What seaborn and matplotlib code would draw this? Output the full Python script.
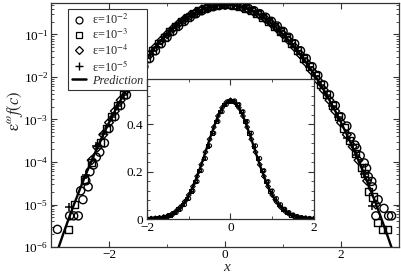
import numpy as np
import pandas as pd
import matplotlib
matplotlib.use("Agg")
import matplotlib.pyplot as plt
import seaborn as sns
from matplotlib.lines import Line2D
from matplotlib.ticker import LogLocator, MultipleLocator, LogFormatterMathtext, NullFormatter

# prediction curve
pred_x = [-3.0, -2.9, -2.8, -2.7, -2.6, -2.5, -2.4, -2.3, -2.2, -2.1, -2.0, -1.9, -1.8, -1.7, -1.6,
          -1.5, -1.4, -1.3, -1.2, -1.1, -1.0, -0.9, -0.8, -0.7, -0.6, -0.5, -0.4, -0.3, -0.2, -0.1,
          0.0, 0.1, 0.2, 0.3, 0.4, 0.5, 0.6, 0.7, 0.8, 0.9, 1.0, 1.1, 1.2, 1.3, 1.4, 1.5, 1.6, 1.7,
          1.8, 1.9, 2.0, 2.1, 2.2, 2.3, 2.4, 2.5, 2.6, 2.7, 2.8, 2.9, 3.0]
pred_y = [2.92e-7, 7.46e-7, 1.85e-6, 4.46e-6, 1.04e-5, 2.34e-5, 5.12e-5, 1.08e-4, 2.22e-4, 4.41e-4,
          8.47e-4, 1.58e-3, 2.85e-3, 4.98e-3, 8.43e-3, 1.38e-2, 2.19e-2, 3.37e-2, 5.03e-2, 7.26e-2,
          0.101, 0.137, 0.180, 0.229, 0.282, 0.336, 0.387, 0.434, 0.469, 0.492,
          0.500, 0.492, 0.469, 0.434, 0.387, 0.336, 0.282, 0.229, 0.180, 0.137, 0.101,
          7.26e-2, 5.03e-2, 3.37e-2, 2.19e-2, 1.38e-2, 8.43e-3, 4.98e-3, 2.85e-3, 1.58e-3, 8.47e-4,
          4.41e-4, 2.22e-4, 1.08e-4, 5.12e-5, 2.34e-5, 1.04e-5, 4.46e-6, 1.85e-6, 7.46e-7, 2.92e-7]

# eps = 1e-2 (circles)
c_x = [-2.89, -2.68, -2.61, -2.53, -2.49, -2.45, -2.40, -2.36, -2.33, -2.27, -2.22, -2.16, -2.08,
       -2.0, -1.9, -1.8, -1.7, -1.6, -1.5, -1.4, -1.3, -1.2, -1.1, -1.0, -0.9, -0.8, -0.7, -0.6,
       -0.5, -0.4, -0.3, -0.2, -0.1, 0.0, 0.1, 0.2, 0.3, 0.4, 0.5, 0.6, 0.7, 0.8, 0.9, 1.0, 1.1,
       1.2, 1.3, 1.4, 1.5, 1.6, 1.7, 1.8, 1.9, 2.0,
       2.1, 2.17, 2.24, 2.27, 2.33, 2.40, 2.44, 2.47, 2.53, 2.54, 2.60, 2.64, 2.74, 2.82, 2.87]
c_y = [2.6e-6, 5.4e-6, 5.4e-6, 5.4e-6, 2.1e-5, 1.3e-5, 3.6e-5, 2.6e-5, 5.9e-5, 8.5e-5, 1.3e-4,
       1.7e-4, 2.8e-4,
       6.14e-4, 1.16e-3, 2.13e-3, 3.78e-3, 6.5e-3, 1.083e-2, 1.748e-2, 2.73e-2, 4.14e-2, 6.07e-2,
       8.62e-2, 0.1185, 0.1579, 0.2039, 0.2549, 0.3087, 0.362, 0.4113, 0.4524, 0.4825, 0.498,
       0.498, 0.4825, 0.4524, 0.4113, 0.362, 0.3087, 0.2549, 0.2039, 0.1579, 0.1185, 8.62e-2,
       6.07e-2, 4.14e-2, 2.73e-2, 1.748e-2, 1.083e-2, 6.5e-3, 3.78e-3, 2.13e-3, 1.16e-3,
       7.0e-4, 3.9e-4, 2.5e-4, 2.1e-4, 1.4e-4, 9.5e-5, 7.1e-5, 4.5e-5, 3.5e-5, 2.6e-5, 5.4e-6,
       1.3e-5, 8.1e-6, 5.4e-6, 5.4e-6]

# eps = 1e-3 (squares)
s_x = [-2.70, -2.60, -2.43, -2.30, -2.15, -2.05,
       -1.95, -1.85, -1.75, -1.65, -1.55, -1.45, -1.35, -1.25, -1.15, -1.05, -0.95, -0.85, -0.75,
       -0.65, -0.55, -0.45, -0.35, -0.25, -0.15, -0.05, 0.05, 0.15, 0.25, 0.35, 0.45, 0.55, 0.65,
       0.75, 0.85, 0.95, 1.05, 1.15, 1.25, 1.35, 1.45, 1.55, 1.65, 1.75, 1.85, 1.95,
       2.05, 2.15, 2.25, 2.35, 2.40, 2.47, 2.55, 2.63, 2.71, 2.80]
s_y = [2.6e-6, 1.0e-5, 3.8e-5, 9.5e-5, 2.9e-4, 6.0e-4,
       1.16e-3, 2.13e-3, 3.78e-3, 6.5e-3, 1.083e-2, 1.748e-2, 2.73e-2, 4.14e-2, 6.07e-2, 8.62e-2,
       0.1185, 0.1579, 0.2039, 0.2549, 0.3087, 0.362, 0.4113, 0.4524, 0.4825, 0.498, 0.498,
       0.4825, 0.4524, 0.4113, 0.362, 0.3087, 0.2549, 0.2039, 0.1579, 0.1185, 8.62e-2, 6.07e-2,
       4.14e-2, 2.73e-2, 1.748e-2, 1.083e-2, 6.5e-3, 3.78e-3, 2.13e-3, 1.16e-3,
       6.3e-4, 3.2e-4, 1.6e-4, 7.5e-5, 5.4e-5, 2.0e-5, 1.5e-5, 3.7e-6, 2.6e-6, 2.6e-6]

# eps = 1e-4 (diamonds)
d_x = [-2.3, -2.2, -2.1,
       -2.0, -1.9, -1.8, -1.7, -1.6, -1.5, -1.4, -1.3, -1.2, -1.1, -1.0, -0.9, -0.8, -0.7, -0.6,
       -0.5, -0.4, -0.3, -0.2, -0.1, 0.0, 0.1, 0.2, 0.3, 0.4, 0.5, 0.6, 0.7, 0.8, 0.9, 1.0, 1.1,
       1.2, 1.3, 1.4, 1.5, 1.6, 1.7, 1.8, 1.9, 2.0,
       2.1, 2.2, 2.3, 2.45, 2.6]
d_y = [1.1e-4, 2.2e-4, 4.4e-4,
       8.47e-4, 1.58e-3, 2.85e-3, 4.98e-3, 8.43e-3, 1.38e-2, 2.19e-2, 3.37e-2, 5.03e-2, 7.26e-2,
       0.101, 0.137, 0.180, 0.229, 0.282, 0.336, 0.387, 0.434, 0.469, 0.492, 0.500, 0.492, 0.469,
       0.434, 0.387, 0.336, 0.282, 0.229, 0.180, 0.137, 0.101, 7.26e-2, 5.03e-2, 3.37e-2,
       2.19e-2, 1.38e-2, 8.43e-3, 4.98e-3, 2.85e-3, 1.58e-3, 8.47e-4,
       4.4e-4, 2.3e-4, 1.1e-4, 3.6e-5, 1.0e-5]

# eps = 1e-5 (pluses)
p_x = [-2.69, -2.40, -2.22, -2.10,
       -1.95, -1.85, -1.75, -1.65, -1.55, -1.45, -1.35, -1.25, -1.15, -1.05, -0.95, -0.85, -0.75,
       -0.65, -0.55, -0.45, -0.35, -0.25, -0.15, -0.05, 0.05, 0.15, 0.25, 0.35, 0.45, 0.55, 0.65,
       0.75, 0.85, 0.95, 1.05, 1.15, 1.25, 1.35, 1.45, 1.55, 1.65, 1.75, 1.85, 1.95,
       2.10, 2.25, 2.40, 2.54]
p_y = [8.9e-6, 5.0e-5, 2.4e-4, 4.5e-4,
       1.16e-3, 2.13e-3, 3.78e-3, 6.5e-3, 1.083e-2, 1.748e-2, 2.73e-2, 4.14e-2, 6.07e-2, 8.62e-2,
       0.1185, 0.1579, 0.2039, 0.2549, 0.3087, 0.362, 0.4113, 0.4524, 0.4825, 0.498, 0.498,
       0.4825, 0.4524, 0.4113, 0.362, 0.3087, 0.2549, 0.2039, 0.1579, 0.1185, 8.62e-2, 6.07e-2,
       4.14e-2, 2.73e-2, 1.748e-2, 1.083e-2, 6.5e-3, 3.78e-3, 2.13e-3, 1.16e-3,
       3.6e-4, 1.5e-4, 5.2e-5, 9.1e-6]

labels = [r'ε=10$^{-2}$', r'ε=10$^{-3}$', r'ε=10$^{-4}$', r'ε=10$^{-5}$']

sns.set_theme(style="ticks")
plt.rcParams['font.family'] = ['Liberation Serif', 'DejaVu Serif']
plt.rcParams['mathtext.fontset'] = 'stix'
plt.rcParams['xtick.direction'] = 'in'
plt.rcParams['ytick.direction'] = 'in'
plt.rcParams['xtick.top'] = True
plt.rcParams['ytick.right'] = True

# (x, y, marker, size main, size inset)
series = [(c_x, c_y, 'o', 34, 8), (s_x, s_y, 's', 26, 7), (d_x, d_y, 'D', 20, 6), (p_x, p_y, '+', 38, 10)]

fig = plt.figure(figsize=(4.02, 2.73), dpi=100)
ax = fig.add_axes([0.127, 0.0952, 0.8657, 0.8938])


def draw(a, big):
    lw = 1.0 if big else 0.75
    for xs, ys, m, s, si in series:
        size = s if big else si
        if m == '+':
            sns.scatterplot(x=xs, y=ys, marker=m, s=size, color='black', linewidth=lw + 0.1, ax=a)
        else:
            sns.scatterplot(x=xs, y=ys, marker=m, s=size, facecolor='none', edgecolor='black',
                            linewidth=lw, ax=a)
    sns.lineplot(x=pred_x, y=pred_y, color='black', linewidth=1.7, ax=a)


def style(a):
    for sp in a.spines.values():
        sp.set_linewidth(0.9)
        sp.set_color('#333333')
    a.tick_params(which='major', length=4.5, width=0.8, labelsize=9.5, pad=2, colors='#333333',
                  labelcolor='black')
    a.tick_params(which='minor', length=2.5, width=0.6, colors='#333333')


draw(ax, True)
ax.set_yscale('log')
ax.set_xlim(-3, 3)
ax.set_ylim(1e-6, 0.55)
ax.xaxis.set_major_locator(MultipleLocator(2))
ax.xaxis.set_minor_locator(MultipleLocator(1))
ax.yaxis.set_major_locator(LogLocator(base=10, numticks=10))
ax.yaxis.set_minor_locator(LogLocator(base=10, subs=np.arange(2, 10), numticks=20))
ax.yaxis.set_major_formatter(LogFormatterMathtext())
ax.yaxis.set_minor_formatter(NullFormatter())
style(ax)
ax.tick_params(axis='x', pad=1.5)
ax.set_xlabel('x', fontstyle='italic', fontsize=11)
ax.xaxis.set_label_coords(0.503, -0.058)
ax.set_ylabel(r'$\mathrm{\varepsilon}^{\omega}\mathit{f(c)}$', fontsize=12)
ax.yaxis.set_label_coords(-0.075, 0.56)

handles = [Line2D([], [], marker='o', ls='none', mfc='none', mec='black', ms=5, mew=0.9),
           Line2D([], [], marker='s', ls='none', mfc='none', mec='black', ms=4.5, mew=0.9),
           Line2D([], [], marker='D', ls='none', mfc='none', mec='black', ms=4, mew=0.9),
           Line2D([], [], marker='+', ls='none', color='black', ms=5.5, mew=1.0),
           Line2D([], [], color='black', lw=1.8)]
leg = ax.legend(handles, labels + ['Prediction'], loc='upper left', bbox_to_anchor=(0.049, 0.975),
                borderaxespad=0, fontsize=8.8, frameon=True, fancybox=False, edgecolor='#333333',
                framealpha=1, handlelength=1.2, handletextpad=0.45, labelspacing=0.08,
                borderpad=0.3)
leg.get_frame().set_linewidth(0.8)
leg.get_texts()[-1].set_fontstyle('italic')

ins = fig.add_axes([147 / 402, (273 - 219) / 273, (314 - 147) / 402, (219 - 79) / 273])
ins.set_facecolor('white')
draw(ins, False)
ins.set_xlim(-2, 2)
ins.set_ylim(0, 0.59)
ins.xaxis.set_major_locator(MultipleLocator(2))
ins.xaxis.set_minor_locator(MultipleLocator(1))
ins.yaxis.set_major_locator(MultipleLocator(0.2))
ins.yaxis.set_minor_locator(MultipleLocator(0.04))
ins.yaxis.set_major_formatter(matplotlib.ticker.FuncFormatter(lambda v, p: '0' if v == 0 else f'{v:g}'))
style(ins)
ins.tick_params(axis='y', pad=3)
ins.tick_params(axis='x', pad=2.5)
ins.set_xlabel('')
ins.set_ylabel('')

fig.savefig('out.png', dpi=100)
